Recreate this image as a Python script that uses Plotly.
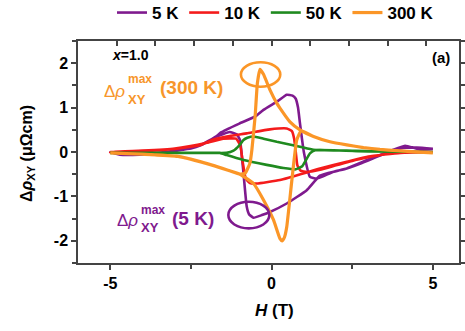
import plotly.graph_objects as go

# ---------------- data ----------------
H_5K = [-5.0, -4.7, -4.1, -3.5, -3.0, -2.5, -2.2, -1.7, -1.57, -1.0, -0.5, -0.25, 0.2, 0.47, 0.65, 0.75, 0.82, 0.88, 1.0, 1.19, 1.4, 1.9, 2.33, 3.0, 3.36, 3.88, 4.14, 4.6, 5.0,
        5.0, 4.5, 4.0, 3.4, 2.8, 2.33, 2.0, 1.5, 1.09, 0.47, -0.05, -0.3, -0.56, -0.7, -0.77, -0.87, -0.98, -1.08, -1.3, -1.7, -2.2, -3.0, -4.0, -5.0]
R_5K = [0.0, -0.06, -0.06, -0.02, 0.03, 0.08, 0.15, 0.36, 0.44, 0.64, 0.8, 0.95, 1.15, 1.29, 1.27, 1.2, 1.0, 0.65, 0.0, -0.56, -0.6, -0.45, -0.37, -0.17, -0.07, 0.08, 0.14, 0.06, 0.07,
        0.07, 0.1, 0.08, -0.07, -0.25, -0.37, -0.43, -0.53, -0.86, -1.16, -1.35, -1.42, -1.48, -1.4, -1.23, -0.48, 0.27, 0.4, 0.45, 0.35, 0.15, 0.02, -0.05, 0.0]

H_10K = [-5.0, -4.0, -3.0, -2.5, -2.2, -1.8, -1.3, -0.77, -0.05, 0.47, 0.63, 0.7, 0.75, 0.8, 0.9, 1.09, 1.5, 2.0, 2.5, 3.0, 3.5, 4.0, 5.0,
         5.0, 4.0, 3.0, 2.33, 1.5, 1.09, 0.26, -0.46, -0.67, -0.8, -0.9, -0.97, -1.1, -1.5, -2.0, -3.0, -4.0, -5.0]
R_10K = [0.0, 0.02, 0.07, 0.12, 0.16, 0.28, 0.36, 0.42, 0.51, 0.53, 0.47, 0.3, 0.0, -0.3, -0.42, -0.45, -0.4, -0.3, -0.2, -0.12, -0.05, 0.0, 0.0,
         0.0, -0.02, -0.1, -0.22, -0.37, -0.46, -0.63, -0.71, -0.7, -0.6, -0.2, 0.15, 0.3, 0.3, 0.21, 0.08, 0.03, 0.0]

H_50K = [-5.0, -3.0, -2.0, -1.6, -1.39, -0.87, -0.15, 0.37, 0.75, 0.95, 1.05, 1.19, 1.35, 2.3, 3.5, 5.0,
         5.0, 3.0, 2.33, 1.3, 0.88, 0.16, -0.25, -0.56, -0.75, -0.87, -1.0, -1.18, -1.4, -2.0, -5.0]
R_50K = [-0.02, -0.02, -0.02, -0.02, -0.07, -0.18, -0.29, -0.36, -0.39, -0.32, -0.2, -0.03, 0.04, 0.03, 0.01, 0.0,
         0.0, 0.01, 0.03, 0.05, 0.12, 0.23, 0.3, 0.35, 0.32, 0.27, 0.15, 0.03, -0.02, -0.02, -0.02]

H_300K = [-5.0, -4.0, -2.9, -2.3, -1.87, -1.35, -0.98, -0.56, -0.25, 0.06, 0.26, 0.33, 0.4, 0.47, 0.63, 0.78, 0.92, 1.3, 1.81, 2.33, 2.85, 3.36, 3.88, 5.0,
          5.0, 3.88, 3.36, 2.85, 2.33, 1.81, 1.3, 0.88, 0.57, 0.26, 0.16, -0.05, -0.25, -0.36, -0.44, -0.51, -0.61, -0.67, -0.82, -0.98, -1.35, -1.87, -2.9, -4.0, -5.0]
R_300K = [-0.02, -0.05, -0.1, -0.2, -0.29, -0.41, -0.5, -0.71, -1.08, -1.53, -1.95, -2.0, -1.92, -1.69, -0.63, 0.27, 0.48, 0.35, 0.23, 0.16, 0.1, 0.06, 0.03, -0.02,
          -0.02, 0.03, 0.06, 0.1, 0.16, 0.23, 0.35, 0.5, 0.68, 0.99, 1.1, 1.4, 1.75, 1.86, 1.55, 0.8, 0.05, -0.25, -0.48, -0.5, -0.41, -0.29, -0.1, -0.05, -0.02]

series_names = ["5 K", "10 K", "50 K", "300 K"]
series_H = [H_5K, H_10K, H_50K, H_300K]
series_R = [R_5K, R_10K, R_50K, R_300K]
colors = ["#7F1A8E", "#F41B1B", "#1F8A1F", "#FB9627"]
widths = [2.6, 2.6, 2.6, 3.2]

x_ticks = [-5, 0, 5]
x_ticktext = ["-5", "0", "5"]
y_ticks = [-2, -1, 0, 1, 2]
y_ticktext = ["-2", "-1", "0", "1", "2"]
x_range = [-6, 5.81]
y_range = [-2.5, 2.5]

# ---------------- figure ----------------
W, Hh = 465, 331
ML, MR, MT, MB = 78, 6, 41, 68
PW, PH = W - ML - MR, Hh - MT - MB


def P(px, py):
    return (px - ML) / PW, (Hh - MB - py) / PH


FONT = "Liberation Sans, Arial, sans-serif"
AX = "#444444"

fig = go.Figure()
for name, hx, ry, c, w in zip(series_names, series_H, series_R, colors, widths):
    fig.add_trace(go.Scatter(x=hx, y=ry, mode="lines", name=name,
                             line=dict(color=c, width=w, shape="spline", smoothing=0.4)))

common = dict(showgrid=False, zeroline=False, linewidth=1.5, tickcolor=AX, tickwidth=1.5)

fig.update_layout(
    width=W, height=Hh,
    margin=dict(l=ML, r=MR, t=MT, b=MB, autoexpand=False),
    paper_bgcolor="white", plot_bgcolor="white",
    font=dict(family=FONT, color="black", size=15, weight="bold"),
    showlegend=True,
    legend=dict(orientation="h", x=P(112, 0)[0], xanchor="left", y=P(0, 13)[1], yanchor="middle",
                font=dict(size=17, weight="bold", family=FONT), bgcolor="rgba(0,0,0,0)",
                itemwidth=30, tracegroupgap=0),
    xaxis=dict(range=x_range, tickvals=x_ticks, ticktext=x_ticktext, ticks="outside", ticklen=5,
               minor=dict(dtick=2.5, tick0=0, ticks="outside", ticklen=4, tickcolor=AX, tickwidth=1.5),
               tickfont=dict(size=16, weight="bold"), linecolor=AX, showline=True, **common),
    yaxis=dict(range=y_range, tickvals=y_ticks, ticktext=y_ticktext, ticks="outside", ticklen=5,
               minor=dict(dtick=0.5, tick0=0, ticks="outside", ticklen=4, tickcolor=AX, tickwidth=1.5),
               tickfont=dict(size=16, weight="bold"), linecolor=AX, showline=True, mirror="ticks",
               **common),
    xaxis2=dict(range=x_range, overlaying="x", side="top", anchor="y", tick0=0, dtick=1.2,
                ticks="inside", ticklen=5, showticklabels=False, linecolor=AX, showline=True, **common),
)

# empty trace attached to the top axis so it is drawn
fig.add_trace(go.Scatter(x=[None], y=[None], xaxis="x2", yaxis="y", showlegend=False, hoverinfo="skip"))

# ellipses marking the maxima
fig.add_shape(type="circle", xref="x", yref="y", x0=-0.95, x1=0.27, y0=1.47, y1=2.02,
              line=dict(color=colors[3], width=2.6))
fig.add_shape(type="circle", xref="x", yref="y", x0=-1.34, x1=-0.07, y0=-1.72, y1=-1.12,
              line=dict(color=colors[0], width=2.6))

ann = []


def text(px, py, s, size, color="black", xa="left", weight="bold", angle=0):
    x, y = P(px, py)
    ann.append(dict(x=x, y=y, xref="paper", yref="paper", text=s, showarrow=False, xanchor=xa,
                    yanchor="middle", textangle=angle,
                    font=dict(size=size, color=color, family=FONT, weight=weight)))


OR = "#F7962B"
PU = "#7F1A8E"
# orange label
text(127, 91, "Δ<i>ρ</i>", 17, OR, "right", "normal")
text(126, 79, "max", 12, OR)
text(126, 100, "XY", 13, OR)
text(158, 88, "(300 K)", 19, OR)
# purple label
text(140, 221, "Δ<i>ρ</i>", 17, PU, "right", "normal")
text(139, 210, "max", 12, PU)
text(139, 227, "XY", 13, PU)
text(170, 218, "(5 K)", 19, PU)
# panel texts
text(110, 55, "<i>x</i>=1.0", 14)
text(452, 57, "(a)", 15, xa="right")
# axis titles
text(274, 310, "<i>H</i> (T)", 17, xa="center")
text(27, 153, "Δ<i>ρ</i><sub>XY</sub> (μΩcm)", 16, xa="center", angle=-90)

fig.update_layout(annotations=ann)

fig.write_html("out.html")
